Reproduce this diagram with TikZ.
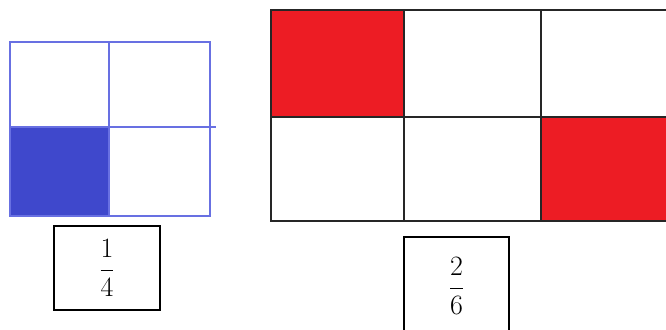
\RequirePackage{fix-cm}
\documentclass[tikz,border=0pt]{standalone}
\definecolor{gridblue}{RGB}{104,112,226}
\definecolor{shadeblue}{RGB}{63,72,204}
\definecolor{shadered}{RGB}{237,28,36}
\newcommand{\numstrut}{\rule[-5pt]{0pt}{5pt}}
\newcommand{\denstrut}{\rule{0pt}{24pt}}
\begin{document}
\begin{tikzpicture}[x=1pt,y=-1pt,
    quarterline/.style={draw=gridblue,line width=1.6pt},
    sixthline/.style={draw=black!85,line width=1.8pt},
    fracbox/.style={draw=black,line width=1.4pt,inner sep=0pt,
        font=\fontsize{28}{32}\selectfont}]
    \clip (0,0) rectangle (666,329);% page size
    % left square in quarters
    \fill[shadeblue] (10,127) rectangle (109,216);% shaded quarter
    \draw[quarterline] (10,42) rectangle (210,216);% outer square
    \draw[quarterline] (109,42) -- (109,216);% middle line
    \draw[quarterline] (10,127) -- (216,127);% cross line
    % right rectangle in sixths
    \fill[shadered] (271,10) rectangle (404,117);% shaded sixth
    \fill[shadered] (541,117) rectangle (680,221);% shaded sixth
    \draw[sixthline] (271,10) rectangle (680,221);% outer rectangle
    \draw[sixthline] (404,10) -- (404,221);% first column line
    \draw[sixthline] (541,10) -- (541,221);% second column line
    \draw[sixthline] (271,117) -- (680,117);% row line
    % fractions
    \node[fracbox,minimum width=106pt,minimum height=84pt] (quarter) at (107,268)
        {$\displaystyle\frac{\numstrut 1}{\denstrut 4}$};
    \node[fracbox,minimum width=105pt,minimum height=98pt] (sixth) at (456.5,286)
        {$\displaystyle\frac{\numstrut 2}{\denstrut 6}$};
\end{tikzpicture}
\end{document}
